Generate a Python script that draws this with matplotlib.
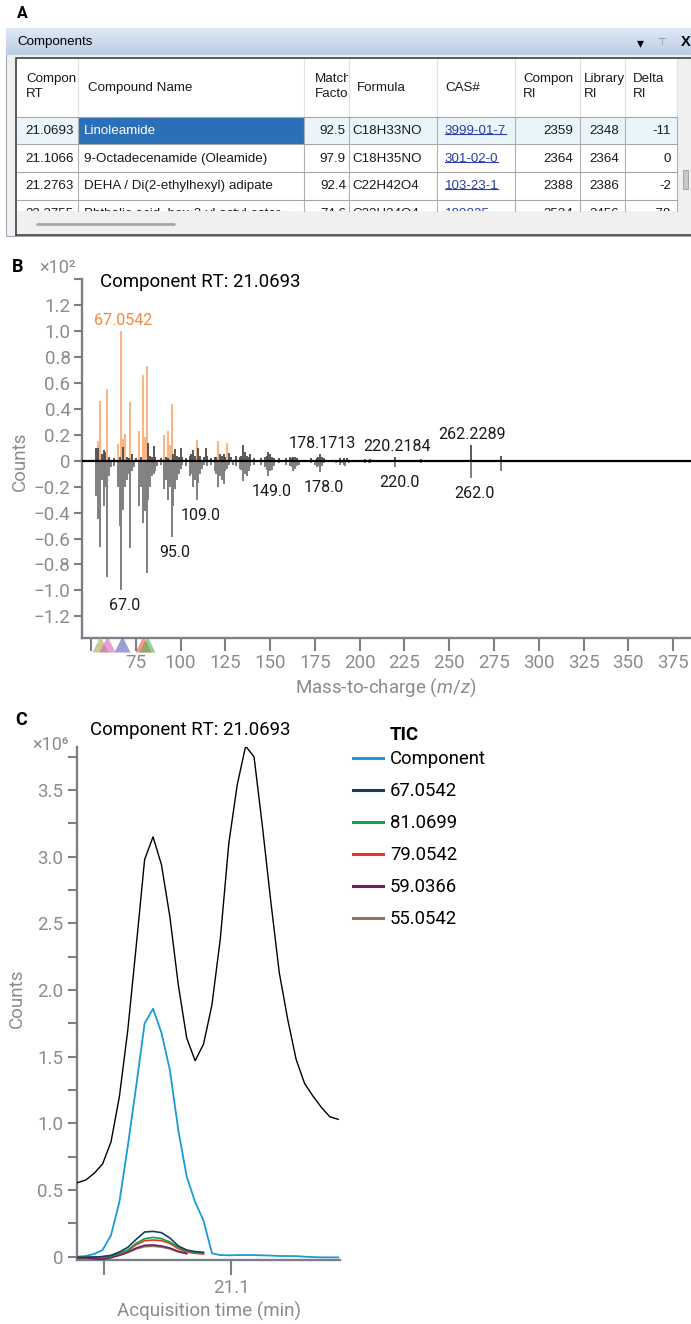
import numpy as np
import matplotlib
matplotlib.use("Agg")
import matplotlib.pyplot as plt
from matplotlib.patches import Rectangle
from matplotlib.lines import Line2D
from matplotlib.colors import LinearSegmentedColormap
from matplotlib.transforms import blended_transform_factory

# ---------------- data ----------------
# A: components table
table_headers = [("Compon", "RT"), ("Compound Name",), ("Match", "Factor"), ("Formula",),
                 ("CAS#",), ("Compon", "RI"), ("Library", "RI"), ("Delta", "RI")]
comp_rt = ["21.0693", "21.1066", "21.2763", "22.2755"]
comp_names = ["Linoleamide", "9-Octadecenamide (Oleamide)", "DEHA / Di(2-ethylhexyl) adipate",
              "Phthalic acid, hex-2-yl octyl ester"]
match_factor = ["92.5", "97.9", "92.4", "74.6"]
formulas = ["C18H33NO", "C18H35NO", "C22H42O4", "C22H34O4"]
cas_numbers = ["3999-01-7", "301-02-0", "103-23-1", "189835"]
comp_ri = ["2359", "2364", "2388", "2534"]
lib_ri = ["2348", "2364", "2386", "2456"]
delta_ri = ["-11", "0", "-2", "-78"]

# B: mass spectra (x10^2 counts)
comp_mz = [54, 55, 59, 65, 67, 68, 69, 72, 77, 79, 80, 81, 82, 91, 93, 94, 95, 109, 121, 126]
comp_int = [0.15, 0.46, 0.55, 0.13, 1.00, 0.17, 0.21, 0.45, 0.23, 0.66, 0.18, 0.73, 0.14,
            0.20, 0.23, 0.12, 0.44, 0.16, 0.15, 0.14]

upper_mz = [53, 54, 56, 57, 58, 60, 63, 66, 68, 70, 71, 73, 75, 78, 82, 83, 84, 85, 86, 89,
            92, 93, 96, 97, 98, 99, 100, 101, 103, 105, 106, 107, 108, 110, 111, 113, 114, 115,
            117, 119, 120, 122, 123, 124, 125, 127, 128, 131, 133, 134, 135, 136, 137, 138, 139,
            141, 145, 147, 148, 149, 150, 151, 152, 155, 159, 161, 162, 163, 164, 165, 173, 176,
            177, 178, 179, 180, 189, 191, 193, 203, 206, 220, 234, 262, 279]
upper_int = [0.10, 0.10, 0.05, 0.08, 0.07, 0.03, 0.02, 0.03, 0.105, 0.03, 0.02, 0.05, 0.02,
             0.03, 0.14, 0.04, 0.03, 0.11, 0.03, 0.02, 0.03, 0.02, 0.05, 0.09, 0.04, 0.03,
             0.10, 0.03, 0.02, 0.04, 0.05, 0.08, 0.04, 0.10, 0.04, 0.03, 0.10, 0.04, 0.02,
             0.03, 0.03, 0.05, 0.04, 0.05, 0.03, 0.06, 0.03, 0.04, 0.03, 0.04, 0.12, 0.07,
             0.04, 0.03, 0.05, 0.02, 0.02, 0.03, 0.04, 0.07, 0.05, 0.03, 0.02, 0.02, 0.02,
             0.03, 0.02, 0.03, 0.03, 0.02, 0.02, 0.02, 0.03, 0.05, 0.03, 0.02, 0.02, 0.02,
             0.02, 0.015, 0.015, 0.026, 0.012, 0.12, 0.04]

lower_mz = [53, 54, 55, 56, 57, 58, 59, 60, 61, 63, 65, 66, 67, 68, 69, 70, 71, 72, 73, 74,
            77, 78, 79, 80, 81, 82, 83, 84, 85, 86, 87, 89, 91, 92, 93, 94, 95, 96, 97, 98,
            99, 100, 101, 103, 105, 106, 107, 108, 109, 110, 111, 112, 113, 115, 117, 119,
            120, 121, 122, 123, 124, 125, 126, 127, 129, 131, 133, 134, 135, 136, 137, 138,
            139, 141, 145, 147, 148, 149, 150, 151, 152, 155, 159, 161, 162, 163, 164, 165,
            166, 173, 175, 176, 177, 178, 179, 180, 187, 189, 190, 191, 192, 194, 203, 205,
            206, 220, 234, 262, 279]
lower_int = [0.27, 0.45, 0.665, 0.15, 0.35, 0.20, 0.90, 0.12, 0.05, 0.04, 0.20, 0.50, 1.00,
             0.38, 0.20, 0.15, 0.10, 0.67, 0.08, 0.05, 0.35, 0.20, 0.48, 0.39, 0.87, 0.30,
             0.20, 0.12, 0.10, 0.08, 0.04, 0.03, 0.22, 0.15, 0.30, 0.20, 0.59, 0.35, 0.22,
             0.15, 0.10, 0.06, 0.03, 0.04, 0.12, 0.10, 0.20, 0.15, 0.30, 0.17, 0.10, 0.06,
             0.03, 0.04, 0.03, 0.08, 0.10, 0.20, 0.12, 0.15, 0.18, 0.08, 0.06, 0.03, 0.03,
             0.04, 0.06, 0.07, 0.16, 0.10, 0.12, 0.08, 0.04, 0.03, 0.03, 0.05, 0.07, 0.12,
             0.08, 0.07, 0.04, 0.02, 0.03, 0.04, 0.05, 0.08, 0.06, 0.04, 0.03, 0.02, 0.03,
             0.05, 0.04, 0.085, 0.04, 0.02, 0.02, 0.03, 0.02, 0.03, 0.04, 0.02, 0.02, 0.02,
             0.015, 0.05, 0.015, 0.136, 0.077]

upper_labels = ["67.0542", "178.1713", "220.2184", "262.2289"]
lower_labels = ["67.0", "95.0", "109.0", "149.0", "178.0", "220.0", "262.0"]

ion_names = ["55.0542", "59.0366", "67.0542", "79.0542", "81.0699"]
ion_marker_colors = ["#a8a84a", "#d65fb8", "#5a5fb8", "#f05050", "#4fb050"]

# C: extracted chromatograms (x10^6 counts)
scan_time = [21.0397, 21.0430, 21.0463, 21.0496, 21.0529, 21.0562, 21.0595, 21.0628,
             21.0661, 21.0694, 21.0727, 21.0760, 21.0793, 21.0826, 21.0859, 21.0892,
             21.0925, 21.0958, 21.0991, 21.1024, 21.1057, 21.1090, 21.1123, 21.1156,
             21.1189, 21.1222, 21.1255, 21.1288, 21.1321, 21.1354, 21.1387, 21.1420]
tic = [0.555, 0.575, 0.625, 0.695, 0.86, 1.20, 1.70, 2.33, 2.98, 3.15, 2.94, 2.55, 2.04,
       1.64, 1.47, 1.595, 1.89, 2.39, 3.10, 3.54, 3.83, 3.75, 3.225, 2.66, 2.13, 1.78,
       1.48, 1.30, 1.205, 1.12, 1.05, 1.03]
component = [0.0, 0.005, 0.02, 0.05, 0.16, 0.41, 0.83, 1.28, 1.75, 1.86, 1.68, 1.40, 0.95,
             0.60, 0.41, 0.27, 0.025, 0.012, 0.01, 0.012, 0.012, 0.012, 0.01, 0.008, 0.005,
             0.005, 0.004, 0.0, -0.003, -0.005, -0.005, -0.005]
ion_67 = [-0.005, -0.005, -0.003, 0.0, 0.01, 0.035, 0.07, 0.13, 0.185, 0.19, 0.18, 0.14,
          0.08, 0.05, 0.038, 0.033]
ion_81 = [-0.005, -0.005, -0.003, 0.0, 0.005, 0.025, 0.05, 0.10, 0.135, 0.145, 0.135, 0.11,
          0.07, 0.045, 0.03, 0.025]
ion_79 = [-0.005, -0.005, -0.003, 0.0, 0.005, 0.02, 0.045, 0.09, 0.12, 0.125, 0.12, 0.10,
          0.06, 0.035, 0.025, 0.02]
ion_59 = [-0.01, -0.01, -0.015, -0.02, -0.008, 0.01, 0.035, 0.065, 0.085, 0.088, 0.08,
          0.065, 0.04, 0.025]
ion_55 = [-0.01, -0.01, -0.01, -0.01, -0.002, 0.01, 0.03, 0.058, 0.075, 0.078, 0.072,
          0.058, 0.035, 0.022]

# ---------------- style ----------------
W, H = 691, 1324
GRAY = "#888c91"
SPINE = "#7b8086"
TICK_FS = 13.5
LABEL_FS = 13.5
TITLE_FS = 13.4
TABLE_FS = 9.6
plt.rcParams["font.family"] = ["Roboto", "DejaVu Sans"]
plt.rcParams["mathtext.fontset"] = "custom"
plt.rcParams["mathtext.rm"] = "Roboto"
plt.rcParams["mathtext.it"] = "Roboto:italic"
TFONT = ["Liberation Sans", "DejaVu Sans"]


def fx(px):
    return px / W


def fy(py):
    return 1 - py / H


fig = plt.figure(figsize=(W / 100, H / 100), dpi=100)

# ---------------- panel A ----------------
axA = fig.add_axes([0, fy(240), 1, 240 / H])
axA.axis("off")
axA.add_patch(Rectangle((6, 28), W - 6, 208, fc="#f0f0f0", ec="#a0a8b4", lw=0.8))
bar_cmap = LinearSegmentedColormap.from_list("bar", ["#dfe9f5", "#b9cce4"])
axA.imshow(np.linspace(0, 1, 32).reshape(-1, 1), cmap=bar_cmap, extent=(6, W, 55, 28),
           aspect="auto", zorder=1)
axA.text(17, 42, "Components", family=TFONT, size=TABLE_FS, va="center", zorder=3)
axA.text(640, 43, "\u25be", family=["DejaVu Sans"], size=10, va="center", ha="center", zorder=3)
axA.text(661, 42, "\u22a4", family=["DejaVu Sans"], size=7, color="#8a8a8a", va="center",
         ha="center", zorder=3)
axA.text(686, 42, "X", family=TFONT, size=10.5, weight="bold", va="center", ha="center", zorder=3)

col_x = [17, 78, 304, 349, 437, 515, 580, 625, 677]
hdr_top, hdr_bot, row_h, tbl_bot = 58, 116.7, 27.7, 211
axA.add_patch(Rectangle((col_x[0], hdr_top), col_x[-1] - col_x[0], tbl_bot - hdr_top,
                        fc="white", ec="none", zorder=2))
# selected row tint
axA.add_patch(Rectangle((col_x[0], hdr_bot), col_x[-1] - col_x[0], row_h, fc="#eaf5fb",
                        ec="none", zorder=2))
axA.add_patch(Rectangle((col_x[1], hdr_bot), col_x[2] - col_x[1], row_h, fc="#2b6fb6",
                        ec="none", zorder=2))
for x in col_x[1:]:
    axA.plot([x, x], [hdr_top, hdr_bot], color="#e2e2e2", lw=0.8, zorder=3)
    axA.plot([x, x], [hdr_bot, tbl_bot], color="#b0b0b0", lw=0.8, zorder=3)
for i in range(4):
    y = hdr_bot + i * row_h
    axA.plot([col_x[0], col_x[-1]], [y, y], color="#a6a6a6", lw=0.8, zorder=3)

# scroll bars
axA.add_patch(Rectangle((col_x[0], tbl_bot), col_x[-1] - col_x[0], 235 - tbl_bot,
                        fc="#f0f0f0", ec="none", zorder=2))
axA.plot([37, 174], [224, 224], color="#a8a8a8", lw=2, solid_capstyle="round", zorder=3)
axA.add_patch(Rectangle((col_x[-1], hdr_top), W - col_x[-1], 235 - hdr_top, fc="#f0f0f0",
                        ec="none", zorder=2))
axA.add_patch(Rectangle((683, 170), 5, 19, fc="#c8c8c8", ec="#9a9a9a", lw=0.6, zorder=3))
axA.plot([16, 16, W], [235, hdr_top, hdr_top], color="#404040", lw=1.2, zorder=4)
axA.plot([16, W], [235, 235], color="#404040", lw=1.2, zorder=4)


def cell_text(x, y, s, c0, c1, r0, r1, **kw):
    t = axA.text(x, y, s, family=TFONT, size=TABLE_FS, va="center", zorder=5, clip_on=True,
                 **kw)
    t.set_clip_path(Rectangle((c0, r0), c1 - c0, r1 - r0, transform=axA.transData))
    return t


hdr_x = [26, 88, 315, 357, 445, 523, 584, 633]
for j, hdr in enumerate(table_headers):
    ys = [79, 94] if len(hdr) == 2 else [88]
    for line, y in zip(hdr, ys):
        cell_text(hdr_x[j], y, line, col_x[j], col_x[j + 1] - 1, hdr_top, hdr_bot,
                  color="#1a1a1a")

columns = [comp_rt, comp_names, match_factor, formulas, cas_numbers, comp_ri, lib_ri, delta_ri]
align = ["left", "left", "right", "left", "left", "right", "right", "right"]
text_x = [25, 84, 346, 352, 445, 573, 619, 671]
cas_texts = []
for i in range(len(comp_rt)):
    r0 = hdr_bot + i * row_h
    r1 = min(r0 + row_h, tbl_bot)
    yc = r0 + row_h / 2 + 0.5
    for j, col in enumerate(columns):
        color = "#1a1a1a"
        if i == 0 and j == 1:
            color = "white"
        if j == 4:
            color = "#2a3fa6"
        t = cell_text(text_x[j], yc, col[i], col_x[j], col_x[j + 1] - 1, r0, r1,
                      ha=align[j], color=color)
        if j == 4 and i < 3:
            cas_texts.append(t)

fig.canvas.draw()
renderer = fig.canvas.get_renderer()
inv = axA.transData.inverted()
for t in cas_texts:
    bb = t.get_window_extent(renderer)
    (x0, y0), (x1, y1) = inv.transform([[bb.x0, bb.y0], [bb.x1, bb.y1]])
    yu = max(y0, y1) - 2.5
    axA.plot([x0, x1], [yu, yu], color="#2a3fa6", lw=0.8, zorder=5)

axA.set_xlim(0, W)
axA.set_ylim(240, 0)

# ---------------- panel B ----------------
axB = fig.add_axes([fx(81.7), fy(638.3), 1 - fx(81.7), (638.3 - 279.3) / H])
axB.vlines(comp_mz, 0, comp_int, color="#f8a466", lw=1.5, alpha=0.8, zorder=2)
axB.vlines(upper_mz, 0, upper_int, color="#4a4a4a", lw=1.3, zorder=3)
axB.vlines(lower_mz, 0, -np.array(lower_int), color="#7f7f7f", lw=1.4, zorder=2)
axB.axhline(0, color="black", lw=1.6, zorder=4)

up_lookup = dict(zip(upper_mz, upper_int))
up_lookup.update(dict(zip(comp_mz, comp_int)))
low_lookup = dict(zip(lower_mz, lower_int))
for lab in upper_labels:
    mz = round(float(lab))
    axB.text(mz + 1, up_lookup[mz] + 0.085, lab, ha="center", va="center", size=11.5,
             color="#f5883a" if lab == upper_labels[0] else "#1a1a1a", zorder=5)
for lab in lower_labels:
    mz = round(float(lab))
    axB.text(mz + 2, -low_lookup[mz] - 0.12, lab, ha="center", va="center", size=11.5,
             color="#1a1a1a", zorder=5)

axB.set_xlim(44.8, 385)
axB.set_ylim(-1.37, 1.40)
trB = blended_transform_factory(axB.transData, axB.transAxes)
for mz, c in zip(ion_names, ion_marker_colors):
    axB.plot(float(mz), -0.016, marker="^", ms=11, color=c, alpha=0.6, mec="none",
             transform=trB, clip_on=False, zorder=6)

yt = [-1.2, -1.0, -0.8, -0.6, -0.4, -0.2, 0, 0.2, 0.4, 0.6, 0.8, 1.0, 1.2, 1.4]
axB.set_yticks(yt, ["0" if v == 0 else ("" if v > 1.3 else f"{v:.1f}".replace("-", "\u2212"))
                    for v in yt])
xt = [50, 75, 100, 125, 150, 175, 200, 225, 250, 275, 300, 325, 350, 375]
axB.set_xticks(xt, ["" if v == 50 else str(v) for v in xt])
axB.tick_params(axis="y", length=5.5, width=1.5, color=SPINE, labelcolor=GRAY,
                labelsize=TICK_FS, pad=2.5)
axB.tick_params(axis="x", length=9.5, width=1.5, color=SPINE, labelcolor=GRAY,
                labelsize=TICK_FS, pad=1.5)
for s in ["top", "right"]:
    axB.spines[s].set_visible(False)
for s in ["left", "bottom"]:
    axB.spines[s].set_color(SPINE)
    axB.spines[s].set_linewidth(1.7)

fig.text(fx(18), fy(267), "B", weight="bold", size=13, ha="center", va="center")
fig.text(fx(57), fy(268), "\u00d710\u00b2", size=13, color=GRAY, ha="center", va="center")
fig.text(fx(200), fy(287), "Component RT: 21.0693", size=TITLE_FS, ha="center",
         va="baseline")
fig.text(fx(20), fy(461), "Counts", size=LABEL_FS, color=GRAY, rotation=90, ha="center",
         va="center")
fig.text(fx(386), fy(688), "Mass-to-charge ($\\it{m/z}$)", size=LABEL_FS, color=GRAY,
         ha="center", va="center")

# ---------------- panel C ----------------
axC = fig.add_axes([fx(77.3), fy(1260), (340 - 77.3) / W, (1260 - 746.7) / H])
ion_series = [(ion_55, "55.0542", "#8f7461"), (ion_59, "59.0366", "#6c2160"),
              (ion_79, "79.0542", "#e8312b"), (ion_81, "81.0699", "#17a04a"),
              (ion_67, "67.0542", "#123f63")]
axC.plot(scan_time, tic, color="black", lw=1.0, zorder=3)
axC.plot(scan_time, component, color="#1c9ad6", lw=1.3, zorder=3)
for vals, name, c in ion_series:
    axC.plot(scan_time[:len(vals)], vals, color=c, lw=1.2, zorder=4)

axC.set_xlim(21.0397, 21.1427)
axC.set_ylim(-0.025, 3.826)
axC.set_xticks([21.05, 21.1], ["", "21.1"])
axC.set_yticks([0, 0.5, 1.0, 1.5, 2.0, 2.5, 3.0, 3.5],
               ["0", "0.5", "1.0", "1.5", "2.0", "2.5", "3.0", "3.5"])
axC.set_yticks([0.25, 0.75, 1.25, 1.75, 2.25, 2.75, 3.25, 3.75], minor=True)
axC.tick_params(axis="y", which="both", length=6.5, width=1.5, color=SPINE,
                labelcolor=GRAY, labelsize=TICK_FS, pad=3.5)
axC.tick_params(axis="x", length=11, width=1.5, color=SPINE, labelcolor=GRAY,
                labelsize=TICK_FS, pad=2.5)
for s in ["top", "right"]:
    axC.spines[s].set_visible(False)
for s in ["left", "bottom"]:
    axC.spines[s].set_color(SPINE)
    axC.spines[s].set_linewidth(1.7)

legend_items = [("Component", "#1c9ad6"), ("67.0542", "#123f63"), ("81.0699", "#17a04a"),
                ("79.0542", "#e8312b"), ("59.0366", "#6c2160"), ("55.0542", "#8f7461")]
handles = [Line2D([], [], color=c, lw=2.2) for _, c in legend_items]
fig.legend(handles, [n for n, _ in legend_items], loc="upper left",
           bbox_to_anchor=(fx(353), fy(750)), frameon=False, fontsize=13.3,
           handlelength=1.62, handletextpad=0.38, labelspacing=0.76, borderpad=0,
           borderaxespad=0)
fig.text(fx(390), fy(735), "TIC", weight="bold", size=13.3, ha="left", va="center")

fig.text(fx(21), fy(720), "C", weight="bold", size=13, ha="center", va="center")
fig.text(fx(50), fy(745), "\u00d710\u2076", size=13, color=GRAY, ha="center", va="center")
fig.text(fx(190), fy(735), "Component RT: 21.0693", size=TITLE_FS, ha="center",
         va="baseline")
fig.text(fx(17), fy(998), "Counts", size=LABEL_FS, color=GRAY, rotation=90, ha="center",
         va="center")
fig.text(fx(209), fy(1311), "Acquisition time (min)", size=LABEL_FS, color=GRAY,
         ha="center", va="center")

fig.text(fx(22), fy(14), "A", weight="bold", size=11.5, ha="center", va="center")

fig.savefig("out.png", dpi=100)
